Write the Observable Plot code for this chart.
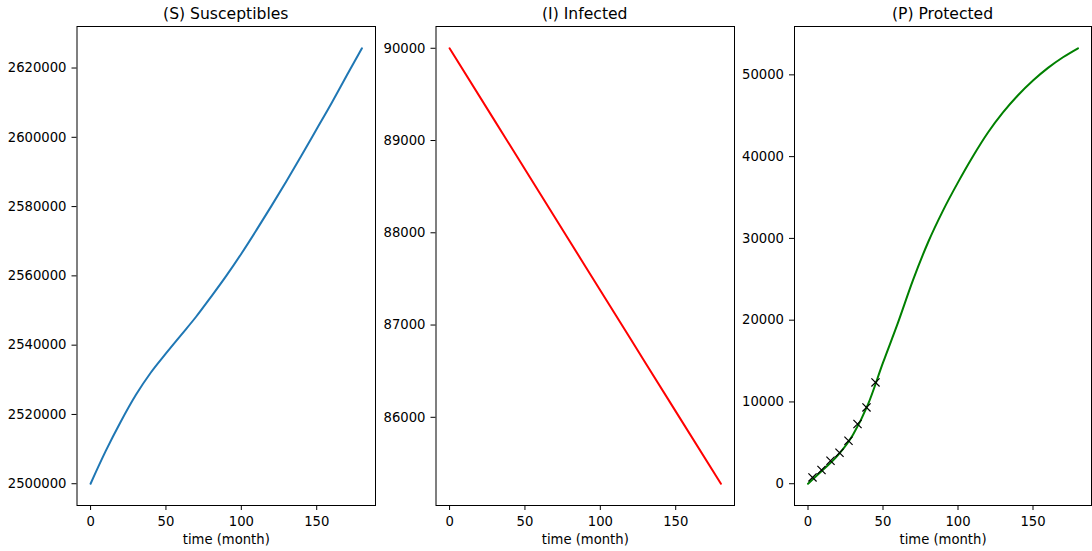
<!DOCTYPE html>
<html>
<head>
<meta charset="utf-8">
<script src="https://cdn.jsdelivr.net/npm/d3@7"></script>
<script src="https://cdn.jsdelivr.net/npm/@observablehq/plot@0.6"></script>
<style>
  html, body { margin: 0; padding: 0; background: #fff; }
  #wrap { position: relative; width: 1092px; height: 551px; overflow: hidden; font-family: "DejaVu Sans", sans-serif; }
  #wrap > div.panel { position: absolute; top: 0; }
  #wrap > div.title { position: absolute; top: 5.5px; font-size: 15.6px; line-height: 16px; text-align: center; color: #000; white-space: nowrap; }
  svg { display: block; }
  #wrap svg text { font-size: 13.2px; font-family: "DejaVu Sans", sans-serif; }
</style>
</head>
<body>
<div id="wrap">
  <div id="p1" class="panel" style="left:0px"></div>
  <div id="p2" class="panel" style="left:380px"></div>
  <div id="p3" class="panel" style="left:740px"></div>
</div>
<script>
// ---- data ----
const titles = ["(S) Susceptibles", "(I) Infected", "(P) Protected"];
const xLabel = "time (month)";
const xTicks = [0, 50, 100, 150];

const months = [0, 10, 20, 30, 40, 50, 60, 70, 80, 90, 100, 110, 120, 130, 140, 150, 160, 170, 180];
const susceptibles = [2500000, 2509400, 2517900, 2525600, 2532100, 2537600, 2542900, 2548200, 2554000,
  2560000, 2566400, 2573200, 2580200, 2587400, 2594800, 2602400, 2610000, 2617900, 2625700];
const sTicks = [2500000, 2520000, 2540000, 2560000, 2580000, 2600000, 2620000];

const infMonths = [0, 30, 60, 90, 120, 150, 180];
const infected = [90000, 89213, 88426, 87638, 86851, 86064, 85280];
const iTicks = [86000, 87000, 88000, 89000, 90000];

const protectedVals = [0, 1700, 3500, 6000, 9700, 14800, 19700, 24900, 29500, 33400, 36850,
  40050, 42950, 45400, 47500, 49300, 50850, 52150, 53250];
const pTicks = [0, 10000, 20000, 30000, 40000, 50000];

const obsMonths = [3, 9, 15, 21, 27, 33, 39, 45];
const obsProtected = [770, 1675, 2810, 3790, 5256, 7300, 9330, 12385];

// ---- helpers ----
function pad(values) {
  const [lo, hi] = d3.extent(values);
  const m = (hi - lo) * 0.05;
  return [lo - m, hi + m];
}
const xDomain = pad(months);

function panel({id, left, title, xs, ys, color, yTicks, width, marginLeft, marginRight, extra = []}) {
  const data = xs.map((x, i) => ({x, y: ys[i]}));
  const svg = Plot.plot({
    width,
    height: 551,
    marginTop: 26,
    marginBottom: 46,
    marginLeft,
    marginRight,
    style: {fontFamily: "DejaVu Sans, sans-serif", fontSize: "13.2px", color: "#000", background: "#fff"},
    x: {domain: xDomain},
    y: {domain: pad(ys.concat(extra.flatMap(e => e.values)))},
    marks: [
      Plot.axisX({ticks: xTicks, tickFormat: "d", tickSize: 5, tickPadding: 6, fontSize: 13.2, label: null}),
      Plot.axisY({ticks: yTicks, tickFormat: "d", tickSize: 5, tickPadding: 5.5, fontSize: 13.2, label: null}),
      Plot.line(data, {x: "x", y: "y", stroke: color, strokeWidth: 2, curve: "monotone-x"}),
      ...extra.map(e => Plot.dot(e.xs.map((x, i) => ({x, y: e.values[i]})),
        {x: "x", y: "y", symbol: "times", r: 3.8, stroke: "black", strokeWidth: 1.2})),
      Plot.frame({stroke: "black", strokeWidth: 1}),
      Plot.text([xLabel], {frameAnchor: "bottom", lineAnchor: "middle", dy: 34.5, fontSize: 13.2, fill: "black"})
    ]
  });
  document.getElementById(id).append(svg);
  const t = document.createElement("div");
  t.className = "title";
  t.textContent = title;
  t.style.left = (left + marginLeft) + "px";
  t.style.width = (width - marginLeft - marginRight) + "px";
  document.getElementById("wrap").append(t);
}

panel({
  id: "p1", left: 0, title: titles[0], xs: months, ys: susceptibles, color: "#1f77b4", yTicks: sTicks,
  width: 380, marginLeft: 76.5, marginRight: 5
});
panel({
  id: "p2", left: 380, title: titles[1], xs: infMonths, ys: infected, color: "red", yTicks: iTicks,
  width: 360, marginLeft: 55.5, marginRight: 6
});
panel({
  id: "p3", left: 740, title: titles[2], xs: months, ys: protectedVals, color: "green", yTicks: pTicks,
  width: 352, marginLeft: 54, marginRight: 1,
  extra: [{xs: obsMonths, values: obsProtected}]
});
</script>
</body>
</html>
